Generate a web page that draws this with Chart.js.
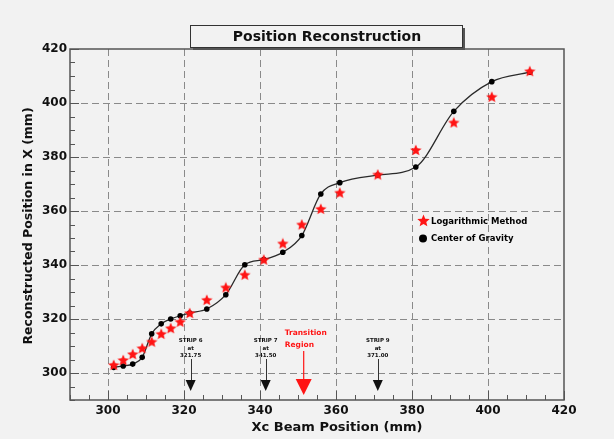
<!DOCTYPE html>
<html>
<head>
<meta charset="utf-8">
<script src="https://cdn.jsdelivr.net/npm/chart.js@4/dist/chart.umd.min.js"></script>
<style>
  html, body { margin: 0; padding: 0; background: #f2f2f2; }
  #wrap { width: 614px; height: 439px; }
</style>
</head>
<body>
<div id="wrap"><canvas id="c" width="614" height="439"></canvas></div>
<script>
// Beam positions (mm) and reconstructed X positions (mm)
const beamPos = [301.5, 304, 306.5, 309, 311.5, 314, 316.5, 319, 321.5, 326, 331, 336, 341, 346, 351, 356, 361, 371, 381, 391, 401, 411];
const cogPos  = [302.1, 302.6, 303.3, 305.8, 314.5, 318.2, 320.0, 321.2, 322.2, 323.7, 329.0, 340.1, 342.0, 344.7, 350.9, 366.3, 370.5, 373.3, 376.3, 396.9, 407.9, 411.4];
const logPos  = [303.0, 304.8, 307.0, 309.2, 311.6, 314.5, 316.6, 319.0, 322.2, 327.1, 331.7, 336.4, 342.0, 348.0, 355.0, 360.8, 366.8, 373.5, 382.6, 392.8, 402.3, 411.8];

const xTicks = [300, 320, 340, 360, 380, 400, 420];
const yTicks = [300, 320, 340, 360, 380, 400, 420];

const seriesNames = ['Logarithmic Method', 'Center of Gravity'];
const titleText = 'Position Reconstruction';
const xTitle = 'Xc Beam Position (mm)';
const yTitle = 'Reconstructed Position in X (mm)';

// Detector boundaries marked below the data
const markers = [321.75, 341.5, 371];
const markerNotes = [['STRIP 6', 'at', '321.75'], ['STRIP 7', 'at', '341.50'], ['STRIP 9', 'at', '371.00']];
const transitionAt = 351.5;
const transitionNote = ['Transition', 'Region'];

const FONT = '"DejaVu Sans", "Liberation Sans", Arial, sans-serif';

// filled red star used as point marker
function makeStar(size, color) {
  const cv = document.createElement('canvas');
  cv.width = size; cv.height = size;
  const g = cv.getContext('2d');
  const cx = size / 2, cy = size / 2 + 0.5, ro = size / 2, ri = ro * 0.45;
  g.beginPath();
  for (let i = 0; i < 10; i++) {
    const r = i % 2 === 0 ? ro : ri;
    const a = -Math.PI / 2 + i * Math.PI / 5;
    const px = cx + r * Math.cos(a), py = cy + r * Math.sin(a);
    if (i === 0) g.moveTo(px, py); else g.lineTo(px, py);
  }
  g.closePath();
  g.fillStyle = color;
  g.fill();
  return cv;
}
const starImg = makeStar(12, '#ff1414');
const legendStar = makeStar(13, '#ff1414');

const decor = {
  id: 'decor',
  beforeDraw(chart) {
    const ctx = chart.ctx;
    ctx.save();
    ctx.fillStyle = '#f2f2f2';
    ctx.fillRect(0, 0, chart.width, chart.height);
    ctx.restore();
  },
  beforeDatasetsDraw(chart) {
    const ctx = chart.ctx, a = chart.chartArea;
    const xs = chart.scales.x, ys = chart.scales.y;
    ctx.save();
    // dashed grid
    ctx.strokeStyle = '#8a8a8a';
    ctx.lineWidth = 1;
    ctx.setLineDash([7, 4]);
    xTicks.forEach(v => {
      const px = Math.round(xs.getPixelForValue(v)) + 0.5;
      if (px > a.left + 2 && px < a.right - 2) {
        ctx.beginPath(); ctx.moveTo(px, a.top); ctx.lineTo(px, a.bottom); ctx.stroke();
      }
    });
    yTicks.forEach(v => {
      const py = Math.round(ys.getPixelForValue(v)) + 0.5;
      if (py > a.top + 2 && py < a.bottom - 2) {
        ctx.beginPath(); ctx.moveTo(a.left, py); ctx.lineTo(a.right, py); ctx.stroke();
      }
    });
    ctx.setLineDash([]);
    // inward ticks
    ctx.strokeStyle = '#555';
    ctx.lineWidth = 1;
    for (let v = xs.min; v <= xs.max; v += 5) {
      const px = Math.round(xs.getPixelForValue(v)) + 0.5;
      const len = v % 20 === 0 ? 9 : 5;
      ctx.beginPath(); ctx.moveTo(px, a.bottom); ctx.lineTo(px, a.bottom - len); ctx.stroke();
    }
    for (let v = ys.min; v <= ys.max; v += 5) {
      const py = Math.round(ys.getPixelForValue(v)) + 0.5;
      const len = v % 20 === 0 ? 9 : 5;
      ctx.beginPath(); ctx.moveTo(a.left, py); ctx.lineTo(a.left + len, py); ctx.stroke();
    }
    // frame
    ctx.strokeStyle = '#555';
    ctx.lineWidth = 1.5;
    ctx.strokeRect(a.left, a.top, a.right - a.left, a.bottom - a.top);
    ctx.restore();
  },
  afterDraw(chart) {
    const ctx = chart.ctx, a = chart.chartArea;
    const xs = chart.scales.x;
    ctx.save();

    // title box with shadow
    const bx = 190, by = 25, bw = 272, bh = 22;
    ctx.fillStyle = '#555';
    ctx.fillRect(bx + 3, by + 3, bw, bh);
    ctx.fillStyle = '#f2f2f2';
    ctx.fillRect(bx, by, bw, bh);
    ctx.strokeStyle = '#333';
    ctx.lineWidth = 1;
    ctx.strokeRect(bx + 0.5, by + 0.5, bw, bh);
    ctx.fillStyle = '#111';
    ctx.font = 'bold 14px ' + FONT;
    ctx.textAlign = 'center';
    ctx.textBaseline = 'middle';
    ctx.fillText(titleText, bx + bw / 2 + 1, by + bh / 2 + 1);

    // axis titles
    ctx.font = 'bold 13px ' + FONT;
    ctx.fillText(xTitle, (a.left + a.right) / 2 + 20, 428);
    ctx.save();
    ctx.translate(29, 226);
    ctx.rotate(-Math.PI / 2);
    ctx.font = 'bold 12.5px ' + FONT;
    ctx.fillText(yTitle, 0, 0);
    ctx.restore();

    // legend
    ctx.drawImage(legendStar, 417, 214);
    ctx.fillStyle = '#000';
    ctx.beginPath(); ctx.arc(423, 238.5, 4, 0, Math.PI * 2); ctx.fill();
    ctx.textAlign = 'left';
    ctx.font = 'bold 8.5px ' + FONT;
    ctx.fillText(seriesNames[0], 431, 222);
    ctx.fillText(seriesNames[1], 431, 239);

    // boundary markers
    markers.forEach((v, i) => {
      const px = xs.getPixelForValue(v);
      ctx.fillStyle = '#111';
      ctx.font = 'bold 5.5px ' + FONT;
      ctx.textAlign = 'center';
      const lines = markerNotes[i];
      ctx.fillText(lines[0], px, 341);
      ctx.fillText(lines[1], px, 348.5);
      ctx.fillText(lines[2], px, 356);
      ctx.strokeStyle = '#333';
      ctx.lineWidth = 1;
      ctx.beginPath(); ctx.moveTo(Math.round(px) + 0.5, 359); ctx.lineTo(Math.round(px) + 0.5, 381); ctx.stroke();
      ctx.beginPath();
      ctx.moveTo(px - 5, 380); ctx.lineTo(px + 5, 380); ctx.lineTo(px, 391); ctx.closePath();
      ctx.fill();
    });

    // transition region marker
    const tx = xs.getPixelForValue(transitionAt);
    ctx.fillStyle = '#ff1414';
    ctx.strokeStyle = '#ff1414';
    ctx.font = 'bold 7.5px ' + FONT;
    ctx.textAlign = 'left';
    ctx.fillText(transitionNote[0], tx - 19, 333);
    ctx.fillText(transitionNote[1], tx - 19, 345);
    ctx.lineWidth = 1.2;
    ctx.beginPath(); ctx.moveTo(tx, 351); ctx.lineTo(tx, 381); ctx.stroke();
    ctx.beginPath();
    ctx.moveTo(tx - 8, 379); ctx.lineTo(tx + 8, 379); ctx.lineTo(tx, 395); ctx.closePath();
    ctx.fill();

    ctx.restore();
  }
};

new Chart(document.getElementById('c'), {
  type: 'scatter',
  data: {
    datasets: [
      {
        label: seriesNames[0],
        data: beamPos.map((x, i) => ({ x: x, y: logPos[i] })),
        pointStyle: starImg,
        pointRadius: 6,
        showLine: false
      },
      {
        label: seriesNames[1],
        data: beamPos.map((x, i) => ({ x: x, y: cogPos[i] })),
        showLine: true,
        borderColor: '#2a2a2a',
        borderWidth: 1.3,
        cubicInterpolationMode: 'monotone',
        pointRadius: 2.8,
        pointBackgroundColor: '#000',
        pointBorderColor: '#000',
        pointBorderWidth: 0
      }
    ]
  },
  options: {
    responsive: false,
    animation: false,
    devicePixelRatio: 1,
    layout: { padding: { left: 0, right: 50, top: 49, bottom: 0 } },
    plugins: { legend: { display: false }, tooltip: { enabled: false } },
    scales: {
      x: {
        type: 'linear',
        min: 290, max: 420,
        afterBuildTicks: s => { s.ticks = xTicks.map(v => ({ value: v })); },
        afterFit: s => { s.height = 39; },
        grid: { display: false, drawTicks: false },
        border: { display: false },
        ticks: { padding: 4, color: '#111', font: { family: FONT, weight: 'bold', size: 12 }, maxRotation: 0 }
      },
      y: {
        type: 'linear',
        min: 290, max: 420,
        afterBuildTicks: s => { s.ticks = yTicks.map(v => ({ value: v })); },
        afterFit: s => { s.width = 70; },
        grid: { display: false, drawTicks: false },
        border: { display: false },
        ticks: { padding: 3, color: '#111', font: { family: FONT, weight: 'bold', size: 12 } }
      }
    }
  },
  plugins: [decor]
});
</script>
</body>
</html>
